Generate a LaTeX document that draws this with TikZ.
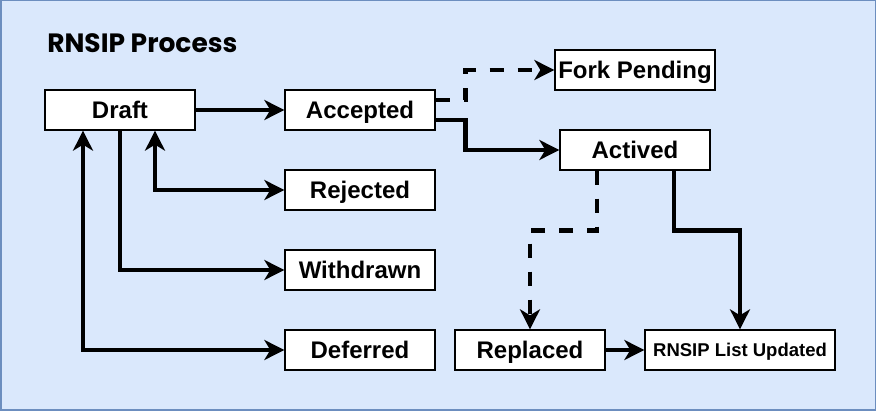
\documentclass[tikz,border=0pt]{standalone}
\usepackage{fontspec}
\setmainfont{Liberation Sans}
\newfontfamily\titlefont{Poppins}
\usetikzlibrary{arrows.meta}
\definecolor{bgblue}{HTML}{DAE8FC}
\definecolor{edgeblue}{HTML}{6C8EBF}

\begin{document}
\begin{tikzpicture}[x=1pt, y=-1pt,
    >={Stealth[length=20pt, width=20pt, inset=6pt]},
    line width=4.5pt,
    state/.style={draw, line width=1.3pt, fill=white, minimum width=150pt,
      minimum height=40pt, inner sep=0pt, text height=17pt, text depth=0pt,
      font=\fontsize{24}{28}\selectfont\bfseries},
    flow/.style={->, line width=4.5pt},
    maybe/.style={->, line width=4.5pt, dash pattern=on 14pt off 14pt}]
    \useasboundingbox (0, 0) rectangle (876, 411);
    \draw[edgeblue, fill=bgblue, line width=1.5pt] (0.75, 0.75) rectangle (875.25, 410.25);

    \node[anchor=base west, inner sep=0pt, font=\titlefont\fontsize{26.5}{30}\selectfont\bfseries] (title) at (45, 53) {RNSIP Process};

    \node[state] (draft) at (120, 110) {Draft};
    \node[state] (accepted) at (360, 110) {Accepted};
    \node[state] (rejected) at (360, 190) {Rejected};
    \node[state] (withdrawn) at (360, 270) {Withdrawn};
    \node[state] (deferred) at (360, 350) {Deferred};
    \node[state, minimum width=160pt] (fork) at (635, 70) {Fork Pending};
    \node[state] (actived) at (635, 150) {Actived};
    \node[state] (replaced) at (530, 350) {Replaced};
    \node[state, minimum width=190pt, text height=13.3pt, font=\fontsize{18.5}{22}\selectfont\bfseries] (updated) at (740, 350) {RNSIP List Updated};

    \draw[flow] (draft) -- (accepted);
    \draw[maybe] ([yshift=10pt]accepted.east) -- ++(30, 0) |- (fork);
    \draw[flow] ([yshift=-10pt]accepted.east) -- ++(30, 0) |- (actived);

    \draw[flow, <->] ([xshift=35pt]draft.south) |- (rejected);
    \draw[flow] (draft.south) |- (withdrawn);
    \draw[flow, <->] ([xshift=-37pt]draft.south) |- (deferred);

    \draw[maybe] ([xshift=-38pt]actived.south) -- ++(0, 60) -| (replaced);
    \draw[flow] ([xshift=39pt]actived.south) -- ++(0, 60) -| (updated);
    \draw[flow] (replaced) -- (updated);
  \end{tikzpicture}
\end{document}
